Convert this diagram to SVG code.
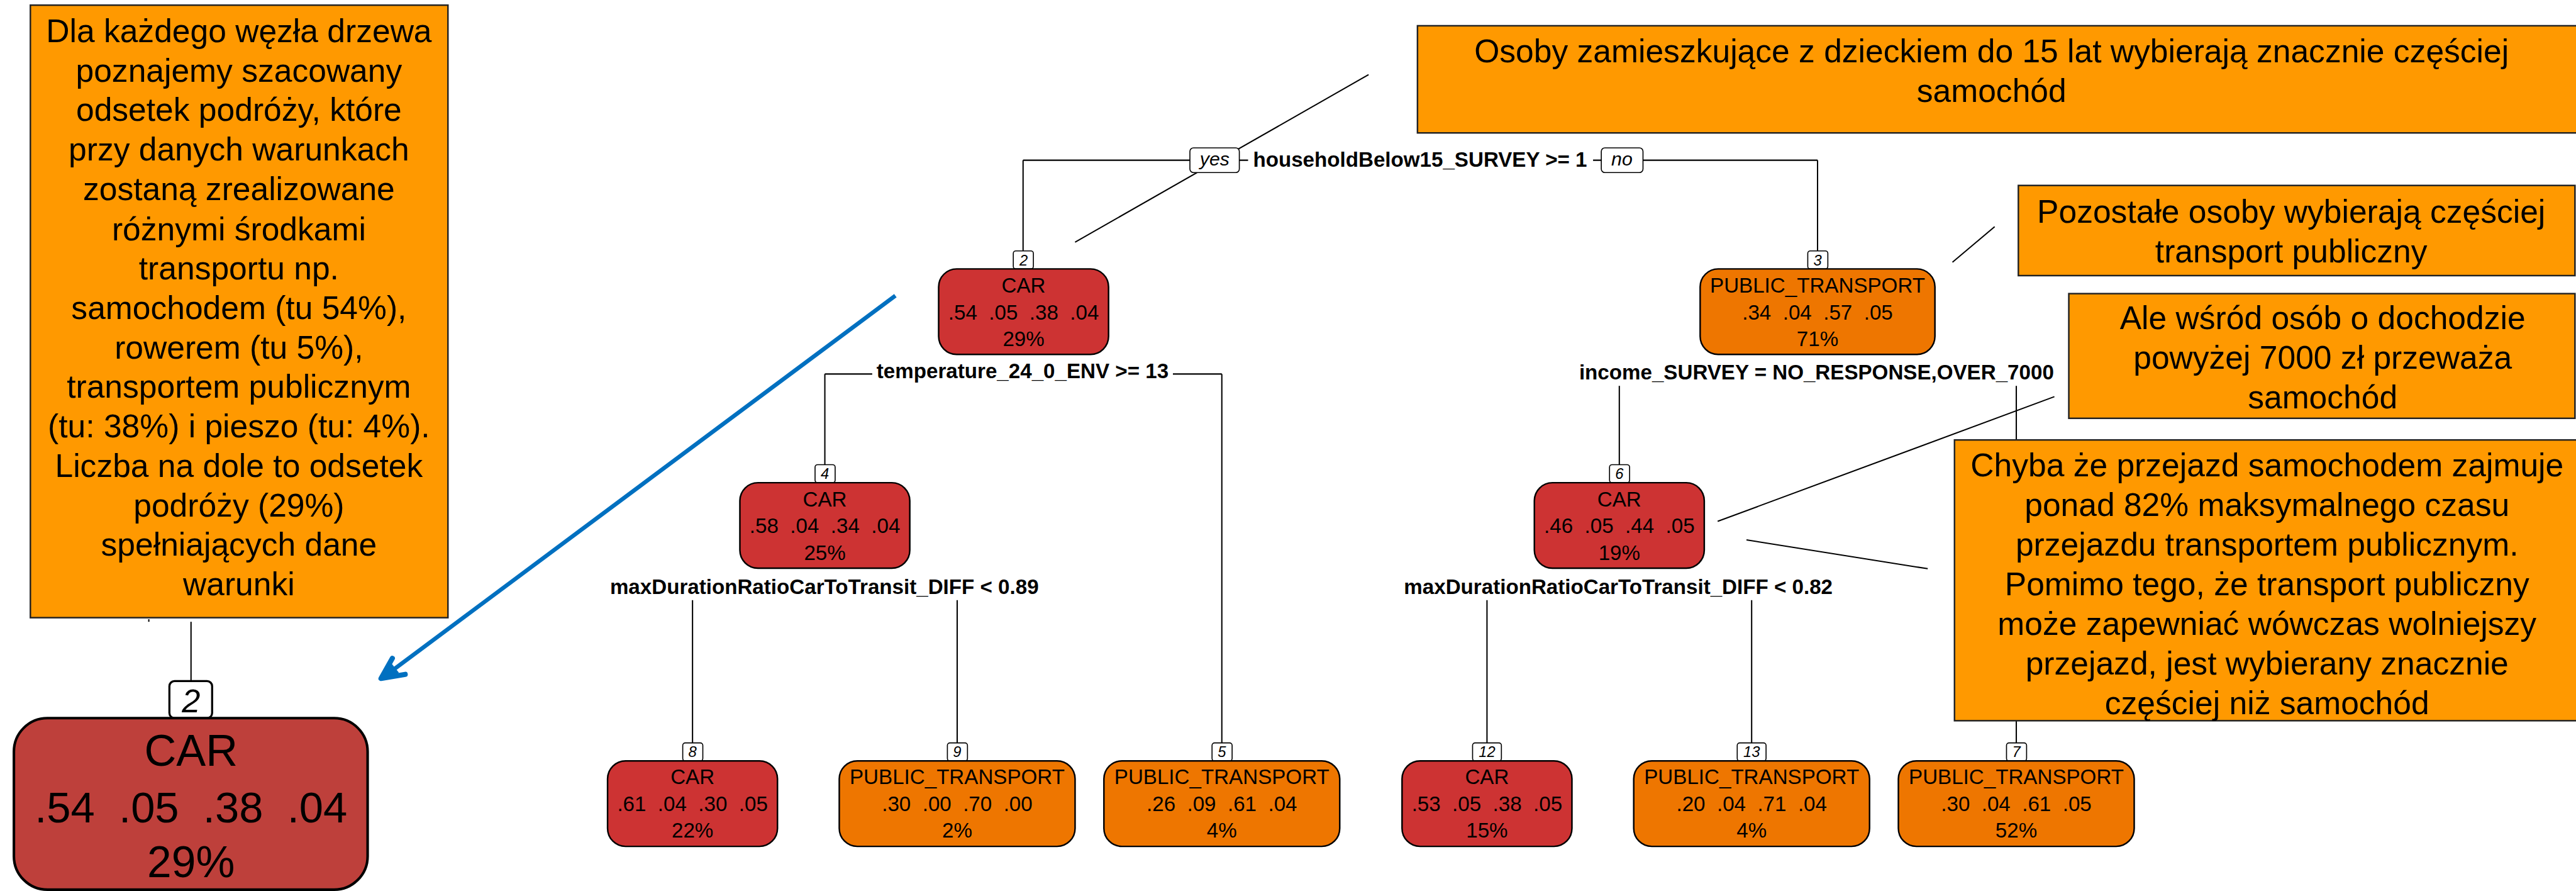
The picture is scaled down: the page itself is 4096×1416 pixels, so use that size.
<svg xmlns="http://www.w3.org/2000/svg" width="4096" height="1416" viewBox="0 0 4096 1416">
  <style>
    text { font-family: "Liberation Sans", Arial, sans-serif; fill: #000; }
    .edge { stroke: #000; stroke-width: 2.5; fill: none; }
    .ptr { stroke: #000; stroke-width: 2.5; fill: none; }
    .box { stroke: #000; stroke-width: 3; }
    .car { fill: #CD3333; }
    .pt { fill: #EE7600; }
    .lbl { fill: #fff; stroke: #000; stroke-width: 2; }
    .nn { font-size: 29px; font-style: italic; text-anchor: middle; }
    .nt { font-size: 40.5px; text-anchor: middle; }
    .row { white-space: pre; }
    .split { font-size: 40.5px; font-weight: bold; text-anchor: middle; }
    .yn { font-size: 37px; font-style: italic; text-anchor: middle; }
    .note { fill: #FF9900; stroke: #222; stroke-width: 3; }
    .nt2 { font-size: 63px; text-anchor: middle; }
  </style>
  <defs>
    <marker id="blueHead" viewBox="0 0 10 10" refX="9" refY="5" markerWidth="4" markerHeight="4" orient="auto" markerUnits="strokeWidth">
      <path d="M1,1 L9,5 L1,9" fill="none" stroke="#0070C0" stroke-width="2" stroke-linecap="round" stroke-linejoin="round"/>
    </marker>
  </defs>
  <rect width="4096" height="1416" fill="#fff"/>
  <g transform="scale(0.8187)">

    <!-- tree branches and note pointers -->
    <g id="connectors">
      <line class="edge" x1="1987" y1="311" x2="3530" y2="311"/>
      <line class="edge" x1="1987" y1="311" x2="1987" y2="487"/>
      <line class="edge" x1="3530" y1="311" x2="3530" y2="487"/>
      <line class="edge" x1="1602" y1="726" x2="2373" y2="726"/>
      <line class="edge" x1="1602" y1="726" x2="1602" y2="902"/>
      <line class="edge" x1="2373" y1="726" x2="2373" y2="1442"/>
      <line class="edge" x1="1345" y1="1165" x2="1345" y2="1442"/>
      <line class="edge" x1="1859" y1="1165" x2="1859" y2="1442"/>
      <line class="edge" x1="3145" y1="749" x2="3145" y2="902"/>
      <line class="edge" x1="3916" y1="749" x2="3916" y2="1442"/>
      <line class="edge" x1="2888" y1="1165" x2="2888" y2="1442"/>
      <line class="edge" x1="3402" y1="1165" x2="3402" y2="1442"/>
      <line class="edge" x1="371" y1="1207" x2="371" y2="1322" stroke-width="4.5"/>
      <line class="edge" x1="289" y1="1202" x2="289" y2="1207" stroke-width="2"/>
      <line class="ptr" x1="2658" y1="145" x2="2088" y2="470"/>
      <line class="ptr" x1="3874" y1="440" x2="3792" y2="509"/>
      <line class="ptr" x1="3990" y1="770" x2="3336" y2="1012"/>
      <line class="ptr" x1="3392" y1="1048" x2="3744" y2="1104"/>
    </g>

    <!-- split conditions -->
    <g id="splits">
      <rect x="2424" y="290" width="670" height="44" fill="#fff"/>
      <text class="split" x="2758" y="324">householdBelow15_SURVEY &gt;= 1</text>
      <rect class="lbl" x="2311" y="287" width="96" height="48" rx="7"/>
      <text class="yn" x="2359" y="321">yes</text>
      <rect class="lbl" x="3110" y="287" width="81" height="48" rx="7"/>
      <text class="yn" x="3150" y="321">no</text>
      <rect x="1694" y="704" width="584" height="44" fill="#fff"/>
      <text class="split" x="1986" y="734">temperature_24_0_ENV &gt;= 13</text>
      <text class="split" x="3528" y="736">income_SURVEY = NO_RESPONSE,OVER_7000</text>
      <text class="split" x="1601" y="1153">maxDurationRatioCarToTransit_DIFF &lt; 0.89</text>
      <text class="split" x="3143" y="1153">maxDurationRatioCarToTransit_DIFF &lt; 0.82</text>
    </g>

    <!-- tree nodes -->
    <g id="node2">
      <rect class="lbl" x="1968" y="487" width="39" height="35" rx="5"/>
      <text class="nn" x="1988" y="515">2</text>
      <rect class="box car" x="1823" y="522" width="330" height="166" rx="35"/>
      <text class="nt" x="1988" y="568">CAR</text>
      <text class="nt row" xml:space="preserve" x="1988" y="620">.54  .05  .38  .04</text>
      <text class="nt" x="1988" y="672">29%</text>
    </g>
    <g id="node3">
      <rect class="lbl" x="3511" y="487" width="39" height="35" rx="5"/>
      <text class="nn" x="3530" y="515">3</text>
      <rect class="box pt" x="3302" y="522" width="456" height="166" rx="35"/>
      <text class="nt" x="3530" y="568">PUBLIC_TRANSPORT</text>
      <text class="nt row" xml:space="preserve" x="3530" y="620">.34  .04  .57  .05</text>
      <text class="nt" x="3530" y="672">71%</text>
    </g>
    <g id="node4">
      <rect class="lbl" x="1583" y="902" width="39" height="35" rx="5"/>
      <text class="nn" x="1602" y="930">4</text>
      <rect class="box car" x="1437" y="937" width="330" height="166" rx="35"/>
      <text class="nt" x="1602" y="983">CAR</text>
      <text class="nt row" xml:space="preserve" x="1602" y="1035">.58  .04  .34  .04</text>
      <text class="nt" x="1602" y="1087">25%</text>
    </g>
    <g id="node6">
      <rect class="lbl" x="3126" y="902" width="39" height="35" rx="5"/>
      <text class="nn" x="3145" y="930">6</text>
      <rect class="box car" x="2980" y="937" width="330" height="166" rx="35"/>
      <text class="nt" x="3145" y="983">CAR</text>
      <text class="nt row" xml:space="preserve" x="3145" y="1035">.46  .05  .44  .05</text>
      <text class="nt" x="3145" y="1087">19%</text>
    </g>
    <g id="node8">
      <rect class="lbl" x="1326" y="1442" width="39" height="35" rx="5"/>
      <text class="nn" x="1345" y="1470">8</text>
      <rect class="box car" x="1180" y="1477" width="330" height="166" rx="35"/>
      <text class="nt" x="1345" y="1522">CAR</text>
      <text class="nt row" xml:space="preserve" x="1345" y="1574">.61  .04  .30  .05</text>
      <text class="nt" x="1345" y="1626">22%</text>
    </g>
    <g id="node9">
      <rect class="lbl" x="1840" y="1442" width="39" height="35" rx="5"/>
      <text class="nn" x="1859" y="1470">9</text>
      <rect class="box pt" x="1630" y="1477" width="458" height="166" rx="35"/>
      <text class="nt" x="1859" y="1522">PUBLIC_TRANSPORT</text>
      <text class="nt row" xml:space="preserve" x="1859" y="1574">.30  .00  .70  .00</text>
      <text class="nt" x="1859" y="1626">2%</text>
    </g>
    <g id="node5">
      <rect class="lbl" x="2354" y="1442" width="39" height="35" rx="5"/>
      <text class="nn" x="2373" y="1470">5</text>
      <rect class="box pt" x="2144" y="1477" width="458" height="166" rx="35"/>
      <text class="nt" x="2373" y="1522">PUBLIC_TRANSPORT</text>
      <text class="nt row" xml:space="preserve" x="2373" y="1574">.26  .09  .61  .04</text>
      <text class="nt" x="2373" y="1626">4%</text>
    </g>
    <g id="node12">
      <rect class="lbl" x="2860" y="1442" width="56" height="35" rx="5"/>
      <text class="nn" x="2888" y="1470">12</text>
      <rect class="box car" x="2723" y="1477" width="330" height="166" rx="35"/>
      <text class="nt" x="2888" y="1522">CAR</text>
      <text class="nt row" xml:space="preserve" x="2888" y="1574">.53  .05  .38  .05</text>
      <text class="nt" x="2888" y="1626">15%</text>
    </g>
    <g id="node13">
      <rect class="lbl" x="3374" y="1442" width="56" height="35" rx="5"/>
      <text class="nn" x="3402" y="1470">13</text>
      <rect class="box pt" x="3173" y="1477" width="458" height="166" rx="35"/>
      <text class="nt" x="3402" y="1522">PUBLIC_TRANSPORT</text>
      <text class="nt row" xml:space="preserve" x="3402" y="1574">.20  .04  .71  .04</text>
      <text class="nt" x="3402" y="1626">4%</text>
    </g>
    <g id="node7">
      <rect class="lbl" x="3897" y="1442" width="39" height="35" rx="5"/>
      <text class="nn" x="3916" y="1470">7</text>
      <rect class="box pt" x="3687" y="1477" width="458" height="166" rx="35"/>
      <text class="nt" x="3916" y="1522">PUBLIC_TRANSPORT</text>
      <text class="nt row" xml:space="preserve" x="3916" y="1574">.30  .04  .61  .05</text>
      <text class="nt" x="3916" y="1626">52%</text>
    </g>

    <!-- enlarged copy of node 2 -->
    <g id="node2-large">
      <rect x="329" y="1322" width="83" height="72" rx="10" fill="#fff" stroke="#000" stroke-width="4"/>
      <text x="371" y="1383" font-size="64" font-style="italic" text-anchor="middle">2</text>
      <rect x="27" y="1394" width="687" height="333" rx="65" fill="#BE403B" stroke="#000" stroke-width="5"/>
      <text x="371" y="1487" font-size="86" text-anchor="middle">CAR</text>
      <text class="row" xml:space="preserve" x="371" y="1596" font-size="84" text-anchor="middle">.54  .05  .38  .04</text>
      <text x="371" y="1703" font-size="85" text-anchor="middle">29%</text>
    </g>

    <!-- notes -->
    <g id="note-legend">
      <rect class="note" x="59" y="10" width="811" height="1189"/>
      <text class="nt2" x="464" y="82">Dla każdego węzła drzewa</text>
      <text class="nt2" x="464" y="159">poznajemy szacowany</text>
      <text class="nt2" x="464" y="235">odsetek podróży, które</text>
      <text class="nt2" x="464" y="312">przy danych warunkach</text>
      <text class="nt2" x="464" y="389">zostaną zrealizowane</text>
      <text class="nt2" x="464" y="466">różnymi środkami</text>
      <text class="nt2" x="464" y="542">transportu np.</text>
      <text class="nt2" x="464" y="619">samochodem (tu 54%),</text>
      <text class="nt2" x="464" y="696">rowerem (tu 5%),</text>
      <text class="nt2" x="464" y="772">transportem publicznym</text>
      <text class="nt2" x="464" y="849">(tu: 38%) i pieszo (tu: 4%).</text>
      <text class="nt2" x="464" y="926">Liczba na dole to odsetek</text>
      <text class="nt2" x="464" y="1003">podróży (29%)</text>
      <text class="nt2" x="464" y="1079">spełniających dane</text>
      <text class="nt2" x="464" y="1156">warunki</text>
    </g>
    <g id="note-root">
      <rect class="note" x="2753" y="50" width="2300" height="208"/>
      <text class="nt2" x="3868" y="121">Osoby zamieszkujące z dzieckiem do 15 lat wybierają znacznie częściej</text>
      <text class="nt2" x="3868" y="198">samochód</text>
    </g>
    <g id="note-other">
      <rect class="note" x="3920" y="360" width="1081" height="175"/>
      <text class="nt2" x="4450" y="432">Pozostałe osoby wybierają częściej</text>
      <text class="nt2" x="4450" y="509">transport publiczny</text>
    </g>
    <g id="note-income">
      <rect class="note" x="4018" y="570" width="983" height="242"/>
      <text class="nt2" x="4511" y="639">Ale wśród osób o dochodzie</text>
      <text class="nt2" x="4511" y="716">powyżej 7000 zł przeważa</text>
      <text class="nt2" x="4511" y="793">samochód</text>
    </g>
    <g id="note-duration">
      <rect class="note" x="3796" y="854" width="1300" height="545"/>
      <text class="nt2" x="4403" y="925">Chyba że przejazd samochodem zajmuje</text>
      <text class="nt2" x="4403" y="1002">ponad 82% maksymalnego czasu</text>
      <text class="nt2" x="4403" y="1078">przejazdu transportem publicznym.</text>
      <text class="nt2" x="4403" y="1155">Pomimo tego, że transport publiczny</text>
      <text class="nt2" x="4403" y="1232">może zapewniać wówczas wolniejszy</text>
      <text class="nt2" x="4403" y="1309">przejazd, jest wybierany znacznie</text>
      <text class="nt2" x="4403" y="1386">częściej niż samochód</text>
    </g>

    <!-- pointer to the enlarged node -->
    <g id="blue-arrow">
      <line x1="1739" y1="574" x2="748" y2="1312" stroke="#0070C0" stroke-width="8"/>
      <polyline points="762,1278 740,1317 787,1309" fill="none" stroke="#0070C0" stroke-width="10" stroke-linecap="round" stroke-linejoin="round"/>
      <polygon points="740,1317 758,1285 775,1306" fill="#0070C0"/>
    </g>
  </g>
</svg>
